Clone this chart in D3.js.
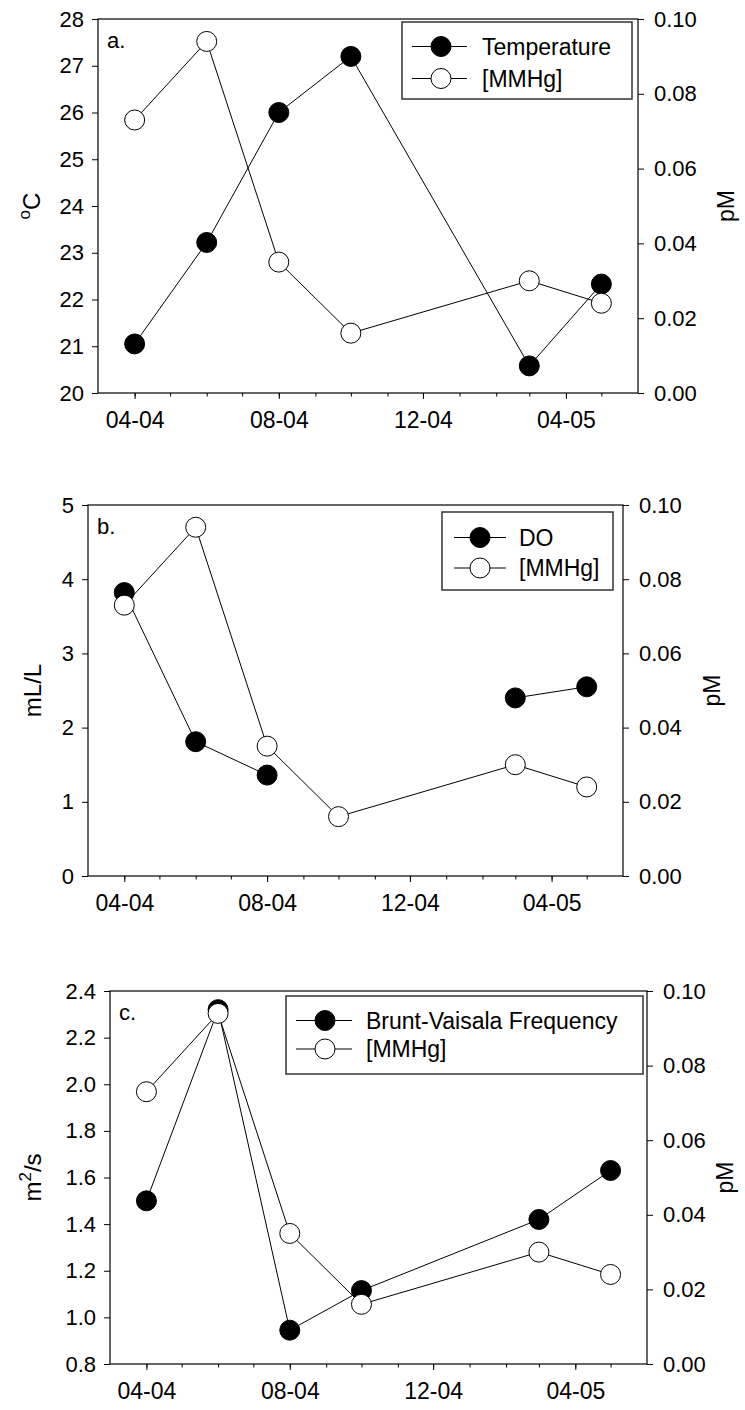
<!DOCTYPE html>
<html>
<head>
<meta charset="utf-8">
<style>
  body { margin: 0; background: #fff; }
  svg text { font-family: "Liberation Sans", Arial, sans-serif; fill: #000; }
</style>
</head>
<body>
<script src="https://d3js.org/d3.v7.min.js"></script>
<script>

var width = 745,
    height = 1410;

// sampling dates (month-year)
var sampleDates = ["2004-04-01", "2004-06-01", "2004-08-01", "2004-10-01", "2005-03-01", "2005-05-01"];

// series values
var temperature     = [21.05, 23.22, 26.00, 27.20, 20.58, 22.33];
var dissolvedOxygen = [3.82, 1.81, 1.36, null, 2.40, 2.55];
var bruntVaisala    = [1.50, 2.32, 0.945, 1.115, 1.42, 1.63];
var mmhg            = [0.073, 0.094, 0.035, 0.016, 0.030, 0.024];

// tick values
var xMajorTicks = ["2004-04-01", "2004-08-01", "2004-12-01", "2005-04-01"];
var tempTicks = [20, 21, 22, 23, 24, 25, 26, 27, 28];
var doTicks   = [0, 1, 2, 3, 4, 5];
var bvTicks   = [0.8, 1.0, 1.2, 1.4, 1.6, 1.8, 2.0, 2.2, 2.4];
var pmTicks   = [0, 0.02, 0.04, 0.06, 0.08, 0.10];

var parse = d3.timeParse("%Y-%m-%d");
var dates = sampleDates.map(parse);
var xDomain = [parse("2004-03-01"), parse("2005-06-01")];

var markerRadius = 10,
    fontSize = 22;

var svg = d3.select("body").append("svg")
    .attr("width", width)
    .attr("height", height);

var panels = [
  { tag: "a.", left: 98, right: 638, top: 19, bottom: 393,
    series: temperature, seriesName: "Temperature", yDomain: [20, 28], yTicks: tempTicks, yFormat: d3.format("d"),
    yLabel: [["o", true], ["C", false]], yLabelX: 40, pmLabelX: 734,
    legend: { x0: 402, x1: 632, y0: 22, y1: 99, lineX0: 412, lineX1: 467, markX: 441, textX: 482, rows: [46.5, 78.5] } },
  { tag: "b.", left: 88, right: 623, top: 505, bottom: 876,
    series: dissolvedOxygen, seriesName: "DO", yDomain: [0, 5], yTicks: doTicks, yFormat: d3.format("d"),
    yLabel: [["mL/L", false]], yLabelX: 41, pmLabelX: 720,
    legend: { x0: 442, x1: 613, y0: 512, y1: 590, lineX0: 454, lineX1: 506, markX: 480, textX: 519, rows: [537.5, 568] } },
  { tag: "c.", left: 110, right: 647, top: 991, bottom: 1364,
    series: bruntVaisala, seriesName: "Brunt-Vaisala Frequency", yDomain: [0.8, 2.4], yTicks: bvTicks, yFormat: d3.format(".1f"),
    yLabel: [["m", false], ["2", true], ["/s", false]], yLabelX: 41, pmLabelX: 733,
    legend: { x0: 286, x1: 643, y0: 996, y1: 1074, lineX0: 296, lineX1: 352, markX: 325, textX: 366, rows: [1020.5, 1049] } }
];

panels.forEach(drawPanel);

function styleAxisText(g) {
  g.attr("font-family", null).attr("font-size", null);
  g.selectAll("text").style("font-size", fontSize + "px");
  g.selectAll("line").attr("stroke", "#000");
  g.select(".domain").remove();
}

function drawPanel(p) {
  var g = svg.append("g");

  var x = d3.scaleTime().domain(xDomain).range([p.left, p.right]);
  var y = d3.scaleLinear().domain(p.yDomain).range([p.bottom, p.top]);
  var y2 = d3.scaleLinear().domain([0, 0.10]).range([p.bottom, p.top]);

  // minor monthly ticks
  var minor = d3.timeMonth.range(d3.timeMonth.offset(xDomain[0], 1), xDomain[1]);
  g.append("g")
      .attr("transform", "translate(0," + p.bottom + ")")
      .call(d3.axisBottom(x).tickValues(minor).tickSize(3.5).tickFormat(""))
      .call(styleAxisText);

  // major ticks with labels
  g.append("g")
      .attr("transform", "translate(0," + p.bottom + ")")
      .call(d3.axisBottom(x).tickValues(xMajorTicks.map(parse)).tickSize(6).tickPadding(13)
          .tickFormat(d3.timeFormat("%m-%y")))
      .call(styleAxisText)
      .selectAll("text").style("font-size", "23px");

  g.append("g")
      .attr("transform", "translate(" + p.left + ",0)")
      .call(d3.axisLeft(y).tickValues(p.yTicks).tickSize(6).tickPadding(8).tickFormat(p.yFormat))
      .call(styleAxisText);

  g.append("g")
      .attr("transform", "translate(" + p.right + ",0)")
      .call(d3.axisRight(y2).tickValues(pmTicks).tickSize(6).tickPadding(10).tickFormat(d3.format(".2f")))
      .call(styleAxisText);

  // frame
  g.append("rect")
      .attr("x", p.left).attr("y", p.top)
      .attr("width", p.right - p.left).attr("height", p.bottom - p.top)
      .attr("fill", "none").attr("stroke", "#000").attr("stroke-width", 1.2);

  // axis titles
  var yl = g.append("text")
      .attr("transform", "translate(" + p.yLabelX + "," + ((p.top + p.bottom) / 2) + ") rotate(-90)")
      .attr("text-anchor", "middle")
      .style("font-size", "24px");
  var shift = 0;
  p.yLabel.forEach(function(part) {
    var dy = 0;
    if (part[1] && shift === 0) { dy = -10; shift = -10; }
    else if (!part[1] && shift !== 0) { dy = 10; shift = 0; }
    yl.append("tspan")
        .attr("dy", dy)
        .style("font-size", part[1] ? "17px" : "24px")
        .text(part[0]);
  });

  g.append("text")
      .attr("transform", "translate(" + p.pmLabelX + "," + ((p.top + p.bottom) / 2) + ") rotate(-90)")
      .attr("text-anchor", "middle")
      .style("font-size", "23px")
      .text("pM");

  g.append("text")
      .attr("x", p.left + 9).attr("y", p.top + 29)
      .style("font-size", "22px")
      .text(p.tag);

  // series
  var main = dates.map(function(d, i) { return { date: d, v: p.series[i] }; });
  var hg = dates.map(function(d, i) { return { date: d, v: mmhg[i] }; });

  var lineMain = d3.line().defined(function(d) { return d.v != null; })
      .x(function(d) { return x(d.date); }).y(function(d) { return y(d.v); });
  var lineHg = d3.line()
      .x(function(d) { return x(d.date); }).y(function(d) { return y2(d.v); });

  g.append("path").datum(main).attr("d", lineMain)
      .attr("fill", "none").attr("stroke", "#000").attr("stroke-width", 1);
  g.selectAll(".dot-main").data(main.filter(function(d) { return d.v != null; }))
    .enter().append("circle")
      .attr("cx", function(d) { return x(d.date); })
      .attr("cy", function(d) { return y(d.v); })
      .attr("r", markerRadius)
      .attr("fill", "#000").attr("stroke", "#000");

  g.append("path").datum(hg).attr("d", lineHg)
      .attr("fill", "none").attr("stroke", "#000").attr("stroke-width", 1);
  g.selectAll(".dot-hg").data(hg)
    .enter().append("circle")
      .attr("cx", function(d) { return x(d.date); })
      .attr("cy", function(d) { return y2(d.v); })
      .attr("r", markerRadius)
      .attr("fill", "#fff").attr("stroke", "#000").attr("stroke-width", 1);

  // legend
  var L = p.legend;
  var lg = g.append("g");
  lg.append("rect")
      .attr("x", L.x0).attr("y", L.y0)
      .attr("width", L.x1 - L.x0).attr("height", L.y1 - L.y0)
      .attr("fill", "#fff").attr("stroke", "#333").attr("stroke-width", 1.5);
  var entries = [{ name: p.seriesName, fill: "#000" }, { name: "[MMHg]", fill: "#fff" }];
  entries.forEach(function(e, i) {
    var yy = L.rows[i];
    lg.append("line")
        .attr("x1", L.lineX0).attr("x2", L.lineX1).attr("y1", yy).attr("y2", yy)
        .attr("stroke", "#000");
    lg.append("circle")
        .attr("cx", L.markX).attr("cy", yy).attr("r", markerRadius)
        .attr("fill", e.fill).attr("stroke", "#000");
    lg.append("text")
        .attr("x", L.textX).attr("y", yy).attr("dy", "0.36em")
        .style("font-size", "23px")
        .text(e.name);
  });
}

</script>
</body>
</html>
